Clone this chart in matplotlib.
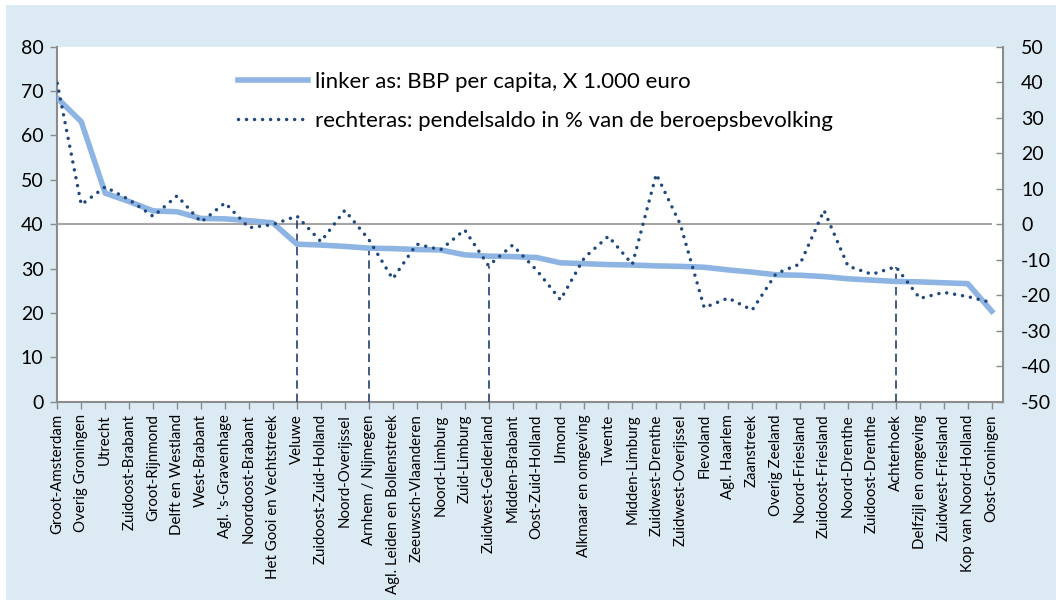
import matplotlib
matplotlib.use('Agg')
import matplotlib.pyplot as plt
from matplotlib.patches import Rectangle

plt.rcParams['font.family'] = ['Lato', 'DejaVu Sans']
plt.rcParams['axes.unicode_minus'] = False

regios = ['Groot-Amsterdam', 'Overig Groningen', 'Utrecht', 'Zuidoost-Brabant', 'Groot-Rijnmond',
          'Delft en Westland', 'West-Brabant', "Agl. 's-Gravenhage", 'Noordoost-Brabant',
          'Het Gooi en Vechtstreek', 'Veluwe', 'Zuidoost-Zuid-Holland', 'Noord-Overijssel',
          'Arnhem / Nijmegen', 'Agl. Leiden en Bollenstreek', 'Zeeuwsch-Vlaanderen', 'Noord-Limburg',
          'Zuid-Limburg', 'Zuidwest-Gelderland', 'Midden-Brabant', 'Oost-Zuid-Holland', 'IJmond',
          'Alkmaar en omgeving', 'Twente', 'Midden-Limburg', 'Zuidwest-Drenthe', 'Zuidwest-Overijssel',
          'Flevoland', 'Agl. Haarlem', 'Zaanstreek', 'Overig Zeeland', 'Noord-Friesland',
          'Zuidoost-Friesland', 'Noord-Drenthe', 'Zuidoost-Drenthe', 'Achterhoek',
          'Delfzijl en omgeving', 'Zuidwest-Friesland', 'Kop van Noord-Holland', 'Oost-Groningen']

# linker as: BBP per capita (x 1.000 euro)
bbp = [68.4, 63.1, 47.0, 45.1, 43.0, 42.8, 41.3, 41.2, 40.8, 40.3,
       35.5, 35.3, 35.0, 34.6, 34.5, 34.3, 34.2, 33.1, 32.8, 32.7,
       32.5, 31.3, 31.1, 30.9, 30.8, 30.6, 30.5, 30.3, 29.7, 29.2,
       28.6, 28.5, 28.2, 27.7, 27.4, 27.1, 27.0, 26.8, 26.6, 20.4]

# rechteras: pendelsaldo in % van de beroepsbevolking
pendel = [39.7, 5.5, 10.5, 6.9, 2.2, 8.0, 0.6, 6.0, -1.0, -0.1,
          2.3, -4.9, 3.9, -4.3, -15.4, -5.6, -7.2, -1.6, -11.7, -5.9,
          -12.9, -21.3, -9.4, -3.4, -11.3, 14.1, 0.0, -23.5, -20.8, -24.2,
          -13.9, -11.2, 3.9, -11.8, -14.1, -12.0, -20.9, -19.2, -20.4, -22.1]

# Gelderse regio's met een verticale lijn
gelderland = ['Veluwe', 'Arnhem / Nijmegen', 'Zuidwest-Gelderland', 'Achterhoek']

blauw_bg = '#DBEAF3'
grijs = '#8C8C8C'

fig = plt.figure(figsize=(10.56, 6.0), dpi=100, facecolor='white')
fig.patches.append(Rectangle((6 / 1056, 0), 1 - 6 / 1056, 1 - 5 / 600,
                             transform=fig.transFigure, facecolor=blauw_bg,
                             edgecolor='none', zorder=-10))

ax = fig.add_axes([57.3 / 1056, 1 - 401.7 / 600, (1003 - 57.3) / 1056, 355 / 600])
ax.set_facecolor('white')
ax2 = ax.twinx()

x = list(range(len(regios)))

ax2.hlines(0, 0, len(regios) - 1, color='#A6A6A6', lw=1.5, zorder=1)
gx = [regios.index(r) for r in gelderland]
ax2.vlines(gx, -50, [pendel[i] for i in gx], colors='#243F73', lw=1.2,
           linestyles=(0, (5, 3)), zorder=2)

l1, = ax2.plot([], [], color='#8DB4E2', lw=4.0,
               label='linker as: BBP per capita, X 1.000 euro')
# BBP lijn hoort bij de linker as (0-80), omgezet naar de rechteras (-50..50)
ax2.plot(x, [b * 100 / 80 - 50 for b in bbp], color='#8DB4E2', lw=4.0,
         solid_joinstyle='round', zorder=3)
l2, = ax2.plot(x, pendel, color='#1F497D', lw=2.5, linestyle=(0, (0.01, 2.3)),
               dash_capstyle='round', zorder=4,
               label='rechteras: pendelsaldo in % van de beroepsbevolking')

ax.set_xlim(0, 39.47)
ax.set_ylim(0, 80)
ax2.set_ylim(-50, 50)
ax.set_yticks(range(0, 81, 10))
ax2.set_yticks(range(-50, 51, 10))
ax.set_xticks(x)
ax.set_xticklabels(regios, rotation=90, fontsize=10.8)

for s in ax.spines.values():
    s.set_visible(False)
for s in ax2.spines.values():
    s.set_visible(False)
for a, side in [(ax, 'left'), (ax, 'bottom'), (ax2, 'right')]:
    a.spines[side].set_visible(True)
    a.spines[side].set_color(grijs)
    a.spines[side].set_linewidth(1.5)

ax.tick_params(axis='y', direction='out', length=5, width=1, color=grijs, labelsize=14, pad=5)
ax.tick_params(axis='x', direction='out', length=5, width=1, color=grijs, pad=4)
ax2.tick_params(axis='y', direction='in', length=5, width=1, color=grijs, labelsize=14, pad=13)

ax2.legend(handles=[l1, l2], loc='upper left', bbox_to_anchor=(238 / 1056, 1 - 72 / 600),
           bbox_transform=fig.transFigure, frameon=False, fontsize=16,
           borderpad=0, borderaxespad=0,
           handlelength=3.15, handletextpad=0.31, labelspacing=0.85)

plt.savefig('out.png', dpi=100, facecolor=fig.get_facecolor())
plt.close()
